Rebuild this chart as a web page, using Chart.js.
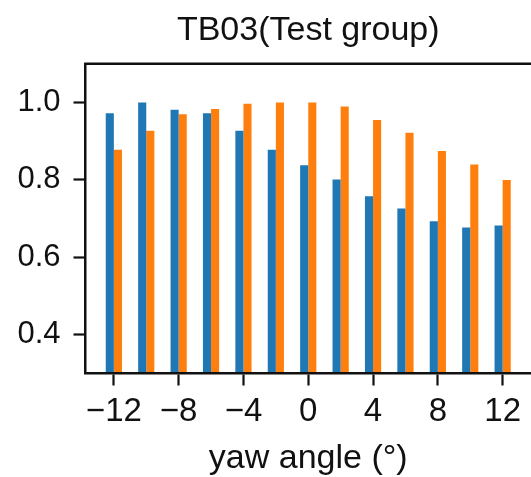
<!DOCTYPE html>
<html>
<head>
<meta charset="utf-8">
<script src="https://cdn.jsdelivr.net/npm/chart.js@4/dist/chart.umd.min.js"></script>
<style>
  html, body { margin: 0; padding: 0; background: #fff; overflow: hidden; }
  #grafico { display: block; }
</style>
</head>
<body>
<canvas id="grafico" width="531" height="477"></canvas>
<script>
// ângulos de guinada (eixo x) e os dois grupos de barras
const yawAngles = [-12, -10, -8, -6, -4, -2, 0, 2, 4, 6, 8, 10, 12];
const blueVals = [0.972, 1.0, 0.981, 0.972, 0.927, 0.878, 0.838, 0.801, 0.758, 0.726, 0.693, 0.677, 0.682];
const orangeVals = [0.878, 0.927, 0.970, 0.983, 0.997, 1.0, 1.0, 0.990, 0.955, 0.922, 0.875, 0.840, 0.800];

// marcas dos eixos
const xTicks = [-12, -8, -4, 0, 4, 8, 12];
const yTicks = [0.4, 0.6, 0.8, 1.0];

const FONTE = "'Liberation Sans', Arial, sans-serif";
const PRETO = "#111";

// linha superior do quadro (o Chart.js só desenha as bordas dos eixos)
const bordaSuperior = {
  id: "bordaSuperior",
  afterDatasetsDraw(chart) {
    const { ctx, chartArea } = chart;
    ctx.save();
    ctx.strokeStyle = PRETO;
    ctx.lineWidth = 2.5;
    ctx.beginPath();
    ctx.moveTo(chartArea.left - 1.25, chartArea.top);
    ctx.lineTo(chartArea.right + 2, chartArea.top);
    ctx.stroke();
    ctx.restore();
  },
};

const ctx = document.getElementById("grafico").getContext("2d");

new Chart(ctx, {
  type: "bar",
  data: {
    datasets: [
      {
        label: "A",
        data: yawAngles.map((a, i) => ({ x: a, y: blueVals[i] })),
        backgroundColor: "#1f77b4",
        borderWidth: 0,
      },
      {
        label: "B",
        data: yawAngles.map((a, i) => ({ x: a, y: orangeVals[i] })),
        backgroundColor: "#ff7f0e",
        borderWidth: 0,
      },
    ],
  },
  options: {
    responsive: false,
    animation: false,
    devicePixelRatio: 1,
    layout: { padding: 0 },
    categoryPercentage: 0.5,
    barPercentage: 1.0,
    plugins: {
      legend: { display: false },
      tooltip: { enabled: false },
      title: {
        display: true,
        text: "TB03(Test group)",
        fullSize: false,
        color: PRETO,
        font: { family: FONTE, size: 34, weight: "normal", lineHeight: 1.2 },
        padding: { top: 10, bottom: 13 },
      },
    },
    scales: {
      x: {
        type: "linear",
        min: -13.75,
        max: 13.75,
        offset: false,
        afterBuildTicks: (axis) => {
          axis.ticks = xTicks.map((v) => ({ value: v }));
        },
        afterFit: (axis) => {
          axis.height = 103.5;
        },
        grid: {
          display: true,
          offset: false,
          drawOnChartArea: false,
          drawTicks: true,
          tickLength: 12,
          tickWidth: 2.2,
          tickColor: PRETO,
        },
        border: { display: true, color: PRETO, width: 2.5, z: 1 },
        ticks: {
          color: PRETO,
          padding: 7,
          maxRotation: 0,
          autoSkip: false,
          font: { family: FONTE, size: 33, lineHeight: 1.2 },
          callback: (v) => (v < 0 ? "\u2212" + Math.abs(v) : String(v)),
        },
        title: {
          display: true,
          text: "yaw angle (°)",
          color: PRETO,
          padding: 0,
          font: { family: FONTE, size: 34, lineHeight: 1.1 },
        },
      },
      y: {
        min: 0.3,
        max: 1.1,
        afterBuildTicks: (axis) => {
          axis.ticks = yTicks.map((v) => ({ value: v }));
        },
        afterFit: (axis) => {
          axis.width = 85.5;
        },
        grid: {
          display: true,
          drawOnChartArea: false,
          drawTicks: true,
          tickLength: 12,
          tickWidth: 2.2,
          tickColor: PRETO,
        },
        border: { display: true, color: PRETO, width: 2.5, z: 1 },
        ticks: {
          color: PRETO,
          padding: 13,
          font: { family: FONTE, size: 31 },
          callback: (v) => v.toFixed(1),
        },
      },
    },
  },
  plugins: [bordaSuperior],
});
</script>
</body>
</html>
